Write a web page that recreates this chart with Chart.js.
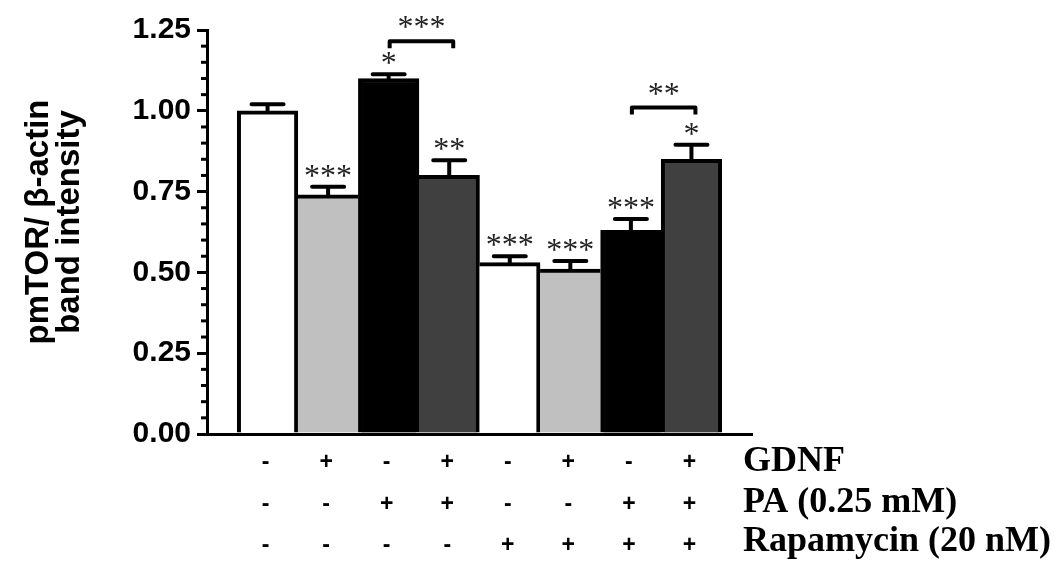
<!DOCTYPE html>
<html>
<head>
<meta charset="utf-8">
<script src="https://cdn.jsdelivr.net/npm/chart.js@4.4.1/dist/chart.umd.min.js"></script>
<style>
  html, body { margin: 0; padding: 0; background: #fff; }
  #wrap { width: 1057px; height: 561px; }
</style>
</head>
<body>
<div id="wrap"><canvas id="mtorChart"></canvas></div>
<script>
// bar values (pmTOR / beta-actin)
const groups = [1, 2, 3, 4, 5, 6, 7, 8];
const values = [1.00, 0.74, 1.10, 0.80, 0.53, 0.51, 0.63, 0.85];
const errors = [0.02, 0.025, 0.013, 0.047, 0.02, 0.025, 0.035, 0.045];
const stars = ['', '***', '*', '**', '***', '***', '***', '*'];
const barColors = ['#ffffff', '#c0c0c0', '#000000', '#404040', '#ffffff', '#c0c0c0', '#000000', '#404040'];

// treatment rows under the axis
const gdnf = ['-', '+', '-', '+', '-', '+', '-', '+'];
const pa = ['-', '-', '+', '+', '-', '-', '+', '+'];
const rapa = ['-', '-', '-', '-', '+', '+', '+', '+'];
const rowNames = ['GDNF', 'PA (0.25 mM)', 'Rapamycin (20 nM)'];

// comparison brackets: [from group, to group], label, level
const bracketPairs = [[3, 4], [7, 8]];
const bracketLabels = ['***', '**'];
const bracketLevels = [1.215, 1.01];

const yTicks = [0, 0.25, 0.5, 0.75, 1.0, 1.25];

const extras = {
  id: 'extras',
  afterDatasetsDraw(chart) {
    const ctx = chart.ctx;
    const x = chart.scales.x, y = chart.scales.y;
    ctx.save();
    ctx.strokeStyle = '#000';
    ctx.lineWidth = 4;
    ctx.lineCap = 'round';
    values.forEach((v, i) => {
      const px = x.getPixelForValue(groups[i]);
      const y0 = y.getPixelForValue(v);
      const y1 = y.getPixelForValue(v + errors[i]);
      ctx.beginPath();
      ctx.moveTo(px, y0);
      ctx.lineTo(px, y1);
      ctx.moveTo(px - 16, y1);
      ctx.lineTo(px + 16, y1);
      ctx.stroke();
    });
    ctx.restore();
  },
  afterDraw(chart) {
    const ctx = chart.ctx;
    const x = chart.scales.x, y = chart.scales.y;
    ctx.save();

    // minor ticks on the y axis
    ctx.strokeStyle = '#000';
    ctx.lineWidth = 3;
    for (let k = 1; k < 25; k++) {
      if (k % 5 === 0) continue;
      const py = y.getPixelForValue(k * 0.05);
      ctx.beginPath();
      ctx.moveTo(x.left - 6, py);
      ctx.lineTo(x.left, py);
      ctx.stroke();
    }

    // significance stars
    ctx.fillStyle = '#222';
    ctx.textAlign = 'center';
    ctx.textBaseline = 'alphabetic';
    ctx.font = '32px "Liberation Serif", "DejaVu Serif", serif';
    values.forEach((v, i) => {
      if (!stars[i]) return;
      const px = x.getPixelForValue(groups[i]);
      const py = y.getPixelForValue(v + errors[i]);
      ctx.fillText(stars[i], px, py - 1);
    });

    // brackets
    ctx.strokeStyle = '#000';
    ctx.lineWidth = 4;
    ctx.lineJoin = 'round';
    bracketPairs.forEach((p, j) => {
      const xa = x.getPixelForValue(p[0]) + 1;
      const xb = x.getPixelForValue(p[1]) + 4;
      const py = y.getPixelForValue(bracketLevels[j]);
      ctx.beginPath();
      ctx.moveTo(xa, py + 7);
      ctx.lineTo(xa, py);
      ctx.lineTo(xb, py);
      ctx.lineTo(xb, py + 7);
      ctx.stroke();
      ctx.fillText(bracketLabels[j], (xa + xb) / 2, py - 4);
    });

    // treatment table
    ctx.fillStyle = '#000';
    ctx.textBaseline = 'middle';
    ctx.font = 'bold 23px "Liberation Sans", Arial, sans-serif';
    const rows = [gdnf, pa, rapa];
    const rowY = [463, 505, 546];
    rows.forEach((r, j) => {
      r.forEach((s, i) => {
        ctx.fillText(s, x.getPixelForValue(groups[i]) - 2, rowY[j]);
      });
    });
    ctx.textAlign = 'left';
    ctx.font = 'bold 36px "Liberation Serif", "Times New Roman", serif';
    const nameY = [462, 503, 542];
    rowNames.forEach((n, j) => {
      ctx.fillText(n, 743, nameY[j]);
    });

    // y axis title, two lines rotated
    ctx.translate(0, 222);
    ctx.rotate(-Math.PI / 2);
    ctx.textAlign = 'center';
    ctx.font = 'bold 33px "Liberation Sans", Arial, sans-serif';
    ctx.fillText('pmTOR/ β-actin', 0, 39);
    ctx.fillText('band intensity', 0, 70);
    ctx.restore();
  }
};

new Chart(document.getElementById('mtorChart'), {
  type: 'bar',
  data: {
    datasets: [{
      data: values.map((v, i) => ({ x: groups[i], y: v })),
      backgroundColor: barColors,
      borderColor: '#000',
      borderWidth: (c) => {
        const i = c.dataIndex;
        const left = (i === 0 || values[i - 1] < values[i]) ? 4 : 0;
        const right = (i === values.length - 1 || values[i + 1] <= values[i]) ? 4 : 0;
        return { top: 4, left: left, right: right, bottom: 0 };
      },
      borderSkipped: 'start',
      barPercentage: 1.0,
      categoryPercentage: 1.0
    }]
  },
  options: {
    responsive: true,
    maintainAspectRatio: false,
    animation: false,
    layout: { padding: { top: 30, right: 305, bottom: 0, left: 0 } },
    plugins: {
      legend: { display: false },
      tooltip: { enabled: false }
    },
    scales: {
      x: {
        type: 'linear',
        offset: false,
        min: 0,
        max: 9,
        ticks: { display: false },
        grid: { display: false, offset: false },
        border: { display: true, color: '#000', width: 3 },
        afterFit(scale) { scale.height = 127; }
      },
      y: {
        min: 0,
        max: 1.25,
        afterBuildTicks(scale) {
          scale.ticks = yTicks.map(v => ({ value: v }));
        },
        ticks: {
          color: '#000',
          padding: 6,
          font: { family: '"Liberation Sans", Arial, sans-serif', size: 30, weight: 'bold' },
          callback: (v) => v.toFixed(2)
        },
        grid: {
          drawOnChartArea: false,
          drawTicks: true,
          tickLength: 10,
          lineWidth: 3,
          color: '#000'
        },
        border: { display: true, color: '#000', width: 3 },
        afterFit(scale) { scale.width = 207; }
      }
    }
  },
  plugins: [extras]
});
</script>
</body>
</html>
